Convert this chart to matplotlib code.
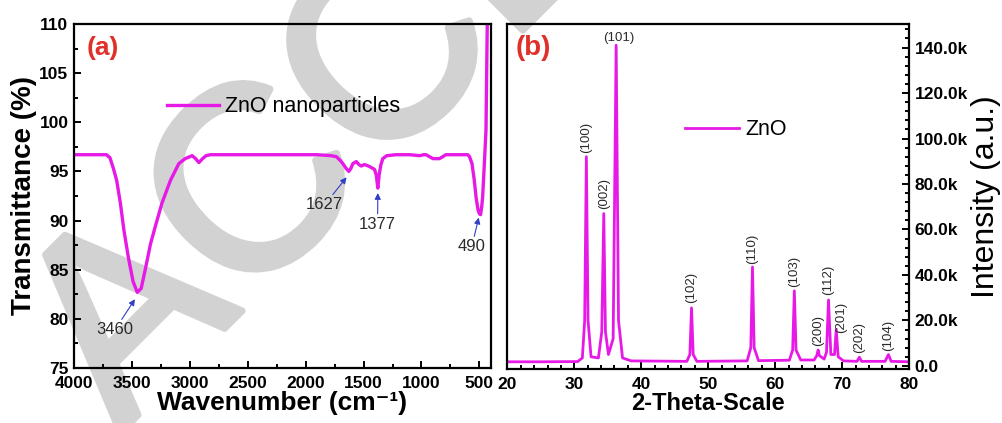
#
# ZnO nanoparticles: FTIR spectrum (a) and XRD pattern (b), side by side.
#

import matplotlib
matplotlib.use("Agg")
import matplotlib.pyplot as plt
import matplotlib.patheffects as pe
from matplotlib.ticker import MultipleLocator, FuncFormatter

# --- Data: FTIR spectrum ---
wavenumber = [4000, 3900, 3800, 3720, 3690, 3660, 3632, 3600, 3569, 3530, 3490,
              3454, 3420, 3380, 3340, 3296, 3240, 3167, 3095, 3040, 2980, 2950,
              2922, 2890, 2860, 2822, 2700, 2400, 2100, 1900, 1780, 1735, 1700,
              1679, 1650, 1627, 1610, 1592, 1563, 1540, 1520, 1492, 1470, 1449,
              1405, 1390, 1377, 1365, 1350, 1334, 1300, 1218, 1100, 1017, 980,
              960, 931, 900, 873, 845, 816, 790, 759, 700, 640, 601, 585, 564,
              545, 529, 512, 500, 490, 480, 472, 457, 443, 430]
transmittance = [96.7, 96.7, 96.7, 96.7, 96.4, 95.3, 94.1, 91.8, 89.0, 86.2, 83.8,
                 82.7, 83.1, 85.3, 87.6, 89.5, 91.8, 94.1, 95.8, 96.3, 96.6, 96.3,
                 95.9, 96.3, 96.6, 96.7, 96.7, 96.7, 96.7, 96.7, 96.6, 96.5, 96.1,
                 95.8, 95.3, 95.0, 95.3, 95.8, 96.0, 95.7, 95.55, 95.7, 95.6, 95.5,
                 95.2, 94.6, 93.3, 94.7, 95.7, 96.3, 96.6, 96.7, 96.7, 96.6, 96.7,
                 96.7, 96.5, 96.3, 96.3, 96.3, 96.5, 96.7, 96.7, 96.7, 96.7, 96.7,
                 96.5, 95.8, 94.2, 92.4, 91.1, 90.7, 90.6, 91.4, 92.4, 95.8, 99.2,
                 112.0]

# FTIR band labels
ftir_bands = ["3460", "1627", "1377", "490"]
ftir_band_pos = [3474, 1647, 1377, 506]
ftir_band_val = [82.0, 94.4, 92.8, 90.3]

# --- Data: XRD pattern ---
two_theta = [20.0, 25.0, 30.5, 31.2, 31.55, 31.8, 32.05, 32.5, 33.6, 34.1, 34.4,
             34.65, 35.1, 35.8, 36.25, 36.6, 37.2, 38.5, 46.8, 47.25, 47.5, 47.75,
             48.3, 55.8, 56.35, 56.6, 56.85, 57.5, 62.1, 62.6, 62.85, 63.1, 63.8,
             65.8, 66.2, 66.4, 66.6, 67.3, 67.65, 67.95, 68.3, 68.85, 69.1, 69.4,
             70.2, 72.2, 72.55, 72.9, 76.4, 76.9, 77.3, 80.0]
intensity_k = [1.8, 1.8, 1.9, 3.5, 20.0, 92.0, 20.0, 4.0, 3.5, 15.0, 67.0,
               15.0, 5.0, 12.0, 141.0, 20.0, 3.5, 2.2, 2.0, 5.0, 25.5, 5.0,
               2.0, 2.2, 8.0, 43.5, 8.0, 2.3, 2.5, 7.0, 33.0, 7.0, 2.6,
               2.6, 4.5, 7.0, 4.5, 3.0, 6.0, 29.0, 5.0, 5.0, 16.0, 4.0,
               2.2, 2.0, 3.8, 2.0, 2.0, 5.0, 2.0, 1.8]

# Miller indices of the reflections and where their labels sit
hkl = ["(100)", "(002)", "(102)", "(110)", "(103)", "(200)", "(112)", "(201)", "(202)", "(104)"]
hkl_x = [31.8, 34.4, 47.5, 56.6, 62.85, 66.4, 67.95, 69.9, 72.5, 76.9]
hkl_y = [93.5, 69.0, 27.5, 45.0, 34.8, 8.8, 31.0, 14.5, 5.8, 6.5]

# --- Style ---
MAGENTA = "#e619e6"
RED = "#e0302a"
ARROW_BLUE = "#2f3fc8"
TEXT_GREY = "#2a2a2a"
WATERMARK = "#d2d2d2"
plt.rcParams["font.family"] = ["Liberation Sans", "DejaVu Sans"]


def style_spines(ax):
    for s in ax.spines.values():
        s.set_linewidth(1.6)


def style_ticks(ax):
    ax.tick_params(which="both", direction="in", width=1.4, labelsize=12.5)
    ax.tick_params(which="major", length=5)
    ax.tick_params(which="minor", length=3)
    ax.tick_params(axis="x", pad=6)
    ax.tick_params(axis="y", pad=4)
    for lab in ax.get_xticklabels() + ax.get_yticklabels():
        lab.set_fontweight("bold")


def plot_ftir(ax):
    ax.plot(wavenumber, transmittance, color=MAGENTA, lw=2.4, label="ZnO nanoparticles")
    ax.set_xlim(4000, 400)
    ax.set_ylim(75, 110)
    ax.xaxis.set_major_locator(MultipleLocator(500))
    ax.xaxis.set_minor_locator(MultipleLocator(250))
    ax.yaxis.set_major_locator(MultipleLocator(5))
    ax.yaxis.set_minor_locator(MultipleLocator(2.5))
    style_ticks(ax)
    ax.set_xlabel("Wavenumber (cm⁻¹)", fontsize=19, fontweight="bold", labelpad=0)
    ax.set_ylabel("Transmittance (%)", fontsize=20, fontweight="bold", labelpad=2)
    ax.text(0.03, 0.93, "(a)", transform=ax.transAxes, color=RED, fontsize=19,
            fontweight="bold", va="center", ha="left")
    ax.legend(loc="center left", bbox_to_anchor=(0.223, 0.759), frameon=False,
              fontsize=15.5, handlelength=2.4, handletextpad=0.3,
              borderpad=0, borderaxespad=0)

    # band assignments with small blue arrows
    text_pos = [(3646, 78.9), (1836, 91.6), (1379, 89.65), (565, 87.35)]
    for name, x, y, (tx, ty) in zip(ftir_bands, ftir_band_pos, ftir_band_val, text_pos):
        ax.annotate(name, xy=(x, y), xytext=(tx, ty), ha="center", va="center",
                    fontsize=12, color=TEXT_GREY,
                    arrowprops=dict(arrowstyle="-|>", color=ARROW_BLUE, lw=0.8,
                                    mutation_scale=9, shrinkA=0, shrinkB=0))
    style_spines(ax)


def plot_xrd(ax):
    intensity = [v * 1000 for v in intensity_k]
    ax.plot(two_theta, intensity, color=MAGENTA, lw=2.0, label="ZnO")
    ax.set_xlim(20, 80)
    ax.set_ylim(-1300, 150400)
    ax.xaxis.set_major_locator(MultipleLocator(10))
    ax.xaxis.set_minor_locator(MultipleLocator(2))
    ax.yaxis.set_major_locator(MultipleLocator(20000))
    ax.yaxis.set_minor_locator(MultipleLocator(4000))
    ax.yaxis.tick_right()
    ax.yaxis.set_label_position("right")
    ax.yaxis.set_major_formatter(FuncFormatter(lambda v, p: "0.0" if v == 0 else f"{v / 1000:.1f}k"))
    style_ticks(ax)
    ax.set_xlabel("2-Theta-Scale", fontsize=17, fontweight="bold", labelpad=0)
    ax.set_ylabel("Intensity (a.u.)", fontsize=23, labelpad=2)
    ax.text(0.02, 0.93, "(b)", transform=ax.transAxes, color=RED, fontsize=20,
            fontweight="bold", va="center", ha="left")
    ax.legend(loc="center left", bbox_to_anchor=(0.443, 0.693), frameon=False,
              fontsize=15.5, handlelength=2.5, handletextpad=0.3,
              borderpad=0, borderaxespad=0)

    # reflection labels, vertical except the strongest one
    for name, x, y in zip(hkl, hkl_x, hkl_y):
        ax.text(x, y * 1000, name, rotation=90, ha="center", va="bottom",
                fontsize=9.5, color=TEXT_GREY)
    ax.text(36.6, 144300, "(101)", ha="center", va="center", fontsize=9.5, color=TEXT_GREY)
    style_spines(ax)


def make_figure():
    fig = plt.figure(figsize=(10.03, 4.23), dpi=100)

    # grey "ACCEPTED" watermark, drawn underneath both panels
    fig.text(120 / 1003, 1 - 433 / 423, "ACCEPTED", fontsize=187, rotation=45,
             rotation_mode="anchor", ha="left", va="baseline", color=WATERMARK,
             family="Liberation Sans", zorder=-5,
             path_effects=[pe.withStroke(linewidth=5, foreground=WATERMARK)])

    ax_a = fig.add_axes([0.0738, 0.130, 0.4157, 0.8133])
    ax_b = fig.add_axes([0.5058, 0.128, 0.4007, 0.8155])
    for ax in (ax_a, ax_b):
        ax.set_facecolor("none")
    plot_ftir(ax_a)
    plot_xrd(ax_b)
    fig.savefig("out.png", dpi=100)


if __name__ == "__main__":
    make_figure()
